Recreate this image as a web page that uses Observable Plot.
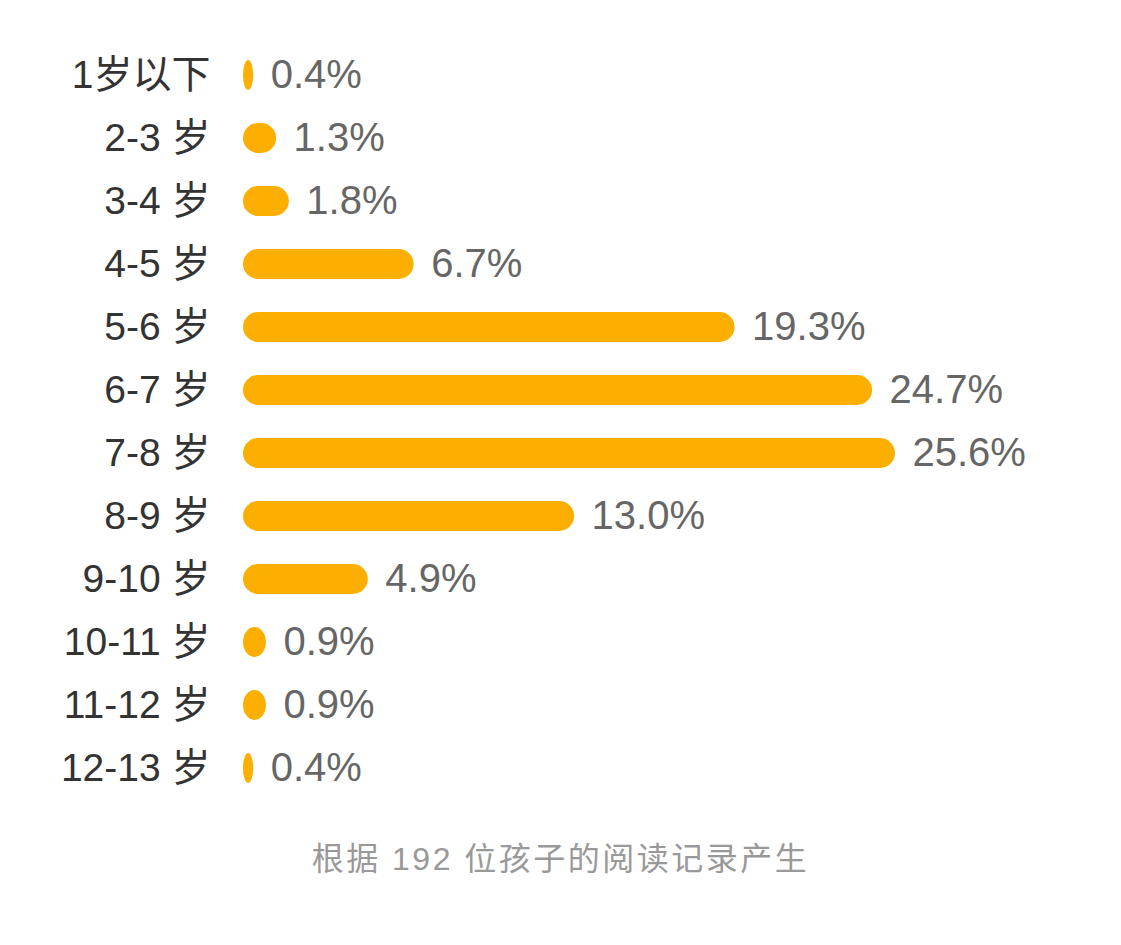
<!DOCTYPE html>
<html>
<head>
<meta charset="utf-8">
<script src="https://cdn.jsdelivr.net/npm/d3@7"></script>
<script src="https://cdn.jsdelivr.net/npm/@observablehq/plot@0.6"></script>
<style>
  html, body { margin: 0; padding: 0; background: #ffffff; }
  #chart svg { display: block; }
  #caption {
    text-align: center;
    font-family: "Liberation Sans", "Noto Sans CJK SC", sans-serif;
    font-size: 32px;
    color: #999999;
    margin-top: 18px;
    letter-spacing: 2.5px;
  }
</style>
</head>
<body>
<div id="chart"></div>
<div id="caption">根据 192 位孩子的阅读记录产生</div>
<script>
const ages = ["1岁以下", "2-3 岁", "3-4 岁", "4-5 岁", "5-6 岁", "6-7 岁", "7-8 岁", "8-9 岁", "9-10 岁", "10-11 岁", "11-12 岁", "12-13 岁"];
const shares = [0.4, 1.3, 1.8, 6.7, 19.3, 24.7, 25.6, 13.0, 4.9, 0.9, 0.9, 0.4];

const data = ages.map((age, i) => ({age, share: shares[i]}));
const font = "'Liberation Sans', 'Noto Sans CJK SC', sans-serif";

const chart = Plot.plot({
  width: 1121,
  height: 815,
  marginLeft: 243,
  marginRight: 226,
  marginTop: 28,
  marginBottom: 0,
  style: {fontFamily: font, background: "#ffffff"},
  x: {domain: [0, d3.max(shares)], axis: null},
  y: {domain: ages, axis: null, paddingInner: 0.52, paddingOuter: 0.5},
  marks: [
    Plot.barX(data, {x: "share", y: "age", fill: "#FCAF00", rx: 15}),
    Plot.text(data, {x: 0, y: "age", text: "age", textAnchor: "end", dx: -33, fontSize: 39, fill: "#333333", letterSpacing: 2}),
    Plot.text(data, {x: "share", y: "age", text: d => d.share.toFixed(1) + "%", textAnchor: "start", dx: 17, fontSize: 40, fill: "#666666", letterSpacing: 1.8})
  ]
});
document.getElementById("chart").appendChild(chart);
</script>
</body>
</html>
